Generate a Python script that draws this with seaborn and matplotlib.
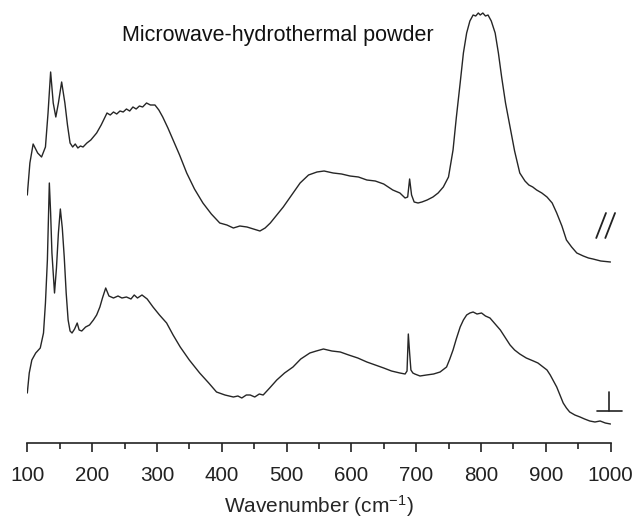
import numpy as np
import pandas as pd
import matplotlib
matplotlib.use("Agg")
import matplotlib.pyplot as plt
import seaborn as sns

# spectra (wavenumber in cm-1, intensity in arbitrary units)
wn_top = [100, 104, 109, 116, 122, 128, 132, 136, 140, 144, 148, 153, 158, 162, 166,
          170, 174, 178, 182, 186, 192, 198, 207, 214, 223, 228, 233, 238, 243, 248,
          253, 258, 263, 268, 273, 278, 284, 290, 297, 303, 309, 317, 325, 335, 346,
          358, 371, 384, 397, 408, 418, 428, 439, 449, 459, 467, 475, 485, 495, 508,
          521, 534, 547, 558, 572, 585, 598, 611, 624, 637, 650, 664, 675, 683, 687,
          690, 693, 697, 703, 709, 717, 726, 734, 742, 750, 757, 762, 768, 773, 778,
          783, 788, 792, 796, 799, 803, 807, 811, 816, 822, 827, 832, 838, 845, 852,
          860, 868, 874, 880, 886, 894, 902, 910, 917, 925, 932, 940, 948, 958, 966,
          973, 985, 1000]
int_top = [248, 280, 299, 290, 286, 296, 330, 371, 340, 326, 340, 361, 340, 318, 300,
           296, 299, 295, 297, 296, 300, 303, 310, 318, 330, 328, 331, 329, 332, 331,
           334, 332, 336, 334, 337, 336, 340, 338, 338, 333, 326, 315, 303, 288, 270,
           254, 240, 229, 220, 218, 215, 217, 216, 214, 212, 215, 220, 228, 236, 248,
           260, 268, 271, 272, 270, 269, 267, 266, 263, 262, 259, 253, 250, 245, 246,
           264, 248, 241, 240, 241, 243, 246, 250, 256, 266, 293, 325, 360, 390, 410,
           422, 428, 427, 430, 428, 430, 427, 428, 422, 410, 390, 366, 340, 316, 292,
           270, 262, 258, 256, 253, 250, 246, 240, 230, 217, 203, 196, 190, 187, 185,
           184, 182, 181]

wn_bottom = [100, 103, 107, 113, 120, 125, 128, 131, 134, 136, 138, 142, 145, 148,
             151, 154, 157, 160, 163, 166, 169, 173, 177, 180, 184, 190, 196, 202, 207,
             212, 216, 221, 226, 233, 240, 246, 253, 260, 265, 270, 277, 285, 294, 304,
             315, 325, 336, 350, 366, 380, 392, 405, 418, 425, 431, 438, 444, 451, 458,
             464, 474, 485, 497, 510, 522, 536, 546, 557, 570, 583, 596, 610, 624, 637,
             650, 662, 675, 683, 686, 688, 690, 692, 695, 698, 706, 716, 727, 737, 747,
             752, 757, 762, 768, 773, 778, 783, 788, 794, 801, 807, 814, 822, 830, 837,
             845, 852, 860, 870, 881, 888, 896, 902, 907, 912, 917, 922, 927, 932, 937,
             945, 953, 960, 968, 976, 984, 992, 1000]
int_bottom = [50, 70, 83, 90, 95, 110, 140, 183, 260, 230, 190, 150, 175, 210,
              234, 215, 186, 150, 123, 112, 110, 114, 120, 113, 112, 116, 118, 123, 128,
              136, 145, 155, 147, 145, 147, 145, 146, 144, 148, 145, 148, 144, 136, 128,
              120, 108, 96, 83, 70, 60, 51, 48, 46, 47, 45, 48, 48, 46, 49,
              48, 55, 63, 70, 76, 84, 90, 92, 94, 92, 91, 88, 85, 81, 78,
              75, 72, 70, 69, 72, 109, 90, 73, 70, 69, 67, 68, 69, 71, 76,
              84, 93, 104, 116, 123, 128, 130, 131, 129, 130, 127, 125, 119, 113, 106,
              98, 93, 89, 85, 82, 80, 76, 73, 68, 62, 56, 48, 40, 35, 31,
              28, 26, 24, 22, 21, 22, 20, 19]

xticks = [100, 200, 300, 400, 500, 600, 700, 800, 900, 1000]
title_text = "Microwave-hydrothermal powder"
xlabel_text = r"Wavenumber (cm$^{\mathrm{-1}}$)"

df_top = pd.DataFrame({"wn": wn_top, "intensity": int_top})
df_bottom = pd.DataFrame({"wn": wn_bottom, "intensity": int_bottom})

sns.set_style("white")
plt.rcParams["font.family"] = ["Liberation Sans", "DejaVu Sans"]
plt.rcParams["mathtext.fontset"] = "custom"
plt.rcParams["mathtext.rm"] = "Liberation Sans"
plt.rcParams["mathtext.it"] = "Liberation Sans:italic"

W, H = 632, 519
fig = plt.figure(figsize=(W / 100, H / 100), dpi=100)
ax = fig.add_axes([27.3 / W, 1 - 443 / H, (610.5 - 27.3) / W, 443 / H])

line_col = "#262626"
sns.lineplot(data=df_top, x="wn", y="intensity", ax=ax, color=line_col,
             linewidth=1.0, estimator=None, sort=False)
sns.lineplot(data=df_bottom, x="wn", y="intensity", ax=ax, color=line_col,
             linewidth=1.0, estimator=None, sort=False)

ax.set_xlim(100, 1000)
ax.set_ylim(0, 443)
ax.set_xticks(xticks)
ax.set_xticks(np.arange(150, 1000, 100), minor=True)
ax.set_yticks([])
ax.set_ylabel("")
ax.set_xlabel(xlabel_text, fontsize=15, labelpad=6)

for s in ["left", "top", "right"]:
    ax.spines[s].set_visible(False)
ax.spines["bottom"].set_linewidth(1.2)
ax.spines["bottom"].set_color("#222222")
ax.tick_params(axis="x", which="major", direction="out", length=6.5, width=1.2,
               labelsize=14.9, pad=10, colors="#222222", bottom=True)
ax.tick_params(axis="x", which="minor", direction="out", length=4, width=1.2,
               colors="#222222", bottom=True)
ax.patch.set_alpha(0)

# break mark "//" on the upper trace and baseline mark on the lower one
for x0, x1 in [(978, 993), (992, 1007)]:
    ax.plot([x0, x1], [205, 230], color="#222222", lw=1.3, clip_on=False)
ax.plot([997, 997], [32, 51], color="#222222", lw=1.2, clip_on=False)
ax.plot([979, 1017], [32, 32], color="#222222", lw=1.2, clip_on=False)

fig.text(277.4 / W, 1 - 35 / H, title_text, ha="center", va="center",
         fontsize=15.5, color="#111111")

fig.savefig("out.png", dpi=100)
